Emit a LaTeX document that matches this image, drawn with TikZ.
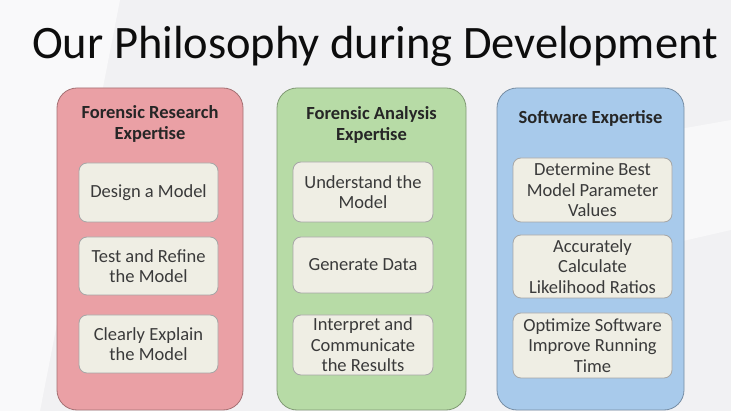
\documentclass[tikz,border=0pt]{standalone}
\usepackage{fontspec}
\setmainfont{Carlito}
\begin{document}
\begin{tikzpicture}[x=1pt,y=-1pt,
  panel/.style={draw=#1!70!black, line width=0.8pt, fill=#1, rounded corners=20pt, inner sep=0pt},
  item/.style={draw=gray!70, line width=0.8pt, fill=boxfill, rounded corners=8pt, align=center,
    inner sep=0pt, font=\fontsize{18.5}{20.5}\selectfont, text=textgray},
  ptitle/.style={align=center, font=\bfseries\fontsize{18.5}{20.5}\selectfont, text=black!85},
]
\definecolor{bg}{HTML}{F1F1F3}
\definecolor{redp}{HTML}{EAA0A5}
\definecolor{greenp}{HTML}{B7DBA6}
\definecolor{bluep}{HTML}{A8CAEB}
\definecolor{boxfill}{HTML}{EFEEE4}
\definecolor{textgray}{HTML}{3A3A3A}
\useasboundingbox (0,0) rectangle (731,411);
\fill[bg] (0,0) rectangle (731,411);
\fill[white,opacity=0.6] (0,0) -- (120,0) -- (40,411) -- (0,411) -- cycle;
\fill[white,opacity=0.5] (560,150) -- (731,120) -- (731,230) -- (600,260) -- cycle;

\node[font=\fontsize{46.5}{50}\selectfont, text=black!95] (title) at (375,46) {Our Philosophy during Development};

% panels
\node[panel=redp, minimum width=186pt, minimum height=322pt] (pr) at (150,249) {};
\node[panel=greenp, minimum width=189pt, minimum height=322pt] (pg) at (371.5,249) {};
\node[panel=bluep, minimum width=187pt, minimum height=322pt] (pb) at (590.5,249) {};

% titles
\node[ptitle] (tr) at (150,124) {Forensic Research\\Expertise};
\node[ptitle] (tg) at (371.5,125) {Forensic Analysis\\Expertise};
\node[ptitle] (tb) at (590.5,118) {Software Expertise};

% red items
\node[item, minimum width=139pt, minimum height=59pt] (r1) at (148.5,192.5) {Design a Model};
\node[item, minimum width=139pt, minimum height=58pt] (r2) at (148.5,266) {Test and Refine\\the Model};
\node[item, minimum width=139pt, minimum height=58pt] (r3) at (148.5,344) {Clearly Explain\\the Model};

% green items
\node[item, minimum width=140pt, minimum height=60pt] (g1) at (363,192) {Understand the\\Model};
\node[item, minimum width=140pt, minimum height=56pt] (g2) at (363,265) {Generate Data};
\node[item, minimum width=140pt, minimum height=60pt] (g3) at (363,345) {Interpret and\\Communicate\\the Results};

% blue items
\node[item, minimum width=159pt, minimum height=64pt] (b1) at (592.5,190) {Determine Best\\Model Parameter\\Values};
\node[item, minimum width=159pt, minimum height=63pt] (b2) at (592.5,266.5) {Accurately\\Calculate\\Likelihood Ratios};
\node[item, minimum width=159pt, minimum height=65pt] (b3) at (592.5,345.5) {Optimize Software\\Improve Running\\Time};
\end{tikzpicture}
\end{document}
